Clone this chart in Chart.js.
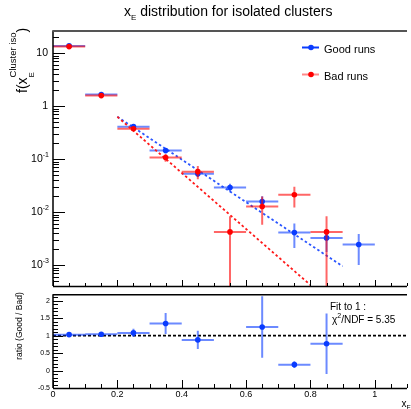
<!DOCTYPE html>
<html>
<head>
<meta charset="utf-8">
<script src="https://cdn.jsdelivr.net/npm/chart.js@4.4.1/dist/chart.umd.min.js"></script>
<style>
html, body { margin: 0; padding: 0; background: #fff; }
#wrap { position: relative; width: 411px; height: 409px; overflow: hidden; }
canvas { position: absolute; left: 0; }
#top-chart { top: 0; }
#ratio-chart { top: 287px; }
</style>
</head>
<body>
<div id="wrap">
<canvas id="top-chart" width="411" height="290"></canvas>
<canvas id="ratio-chart" width="411" height="122"></canvas>
</div>
<script>
var binCenters = [0.05, 0.15, 0.25, 0.35, 0.45, 0.55, 0.65, 0.75, 0.85, 0.95];
var binHalfWidth = 0.05;
var goodValues = [13.7, 1.66, 0.41, 0.145, 0.0527, 0.0292, 0.0159, 0.0041, 0.00326, 0.00244];
var goodErrors = [0.4, 0.05, 0.02, 0.012, 0.006, 0.005, 0.004, 0.002, 0.0015, 0.00144];
var badValues = [13.3, 1.58, 0.374, 0.107, 0.058, 0.00423, 0.0128, 0.0212, 0.00423, null];
var badErrors = [0.6, 0.08, 0.03, 0.018, 0.0165, 0.0041, 0.007, 0.009, 0.0041, null];
var goodFitX = [0.2, 0.9];
var goodFitY = [0.63, 0.00095];
var badFitX = [0.2, 0.8];
var badFitY = [0.63, 0.00042];
var ratioValues = [1.03, 1.04, 1.08, 1.35, 0.88, null, 1.25, 0.17, 0.77, null];
var ratioErrors = [0.04, 0.05, 0.12, 0.3, 0.26, null, 0.88, 0.1, 0.87, null];
var ratioFitX = [0, 1.1];
var ratioFitY = [1, 1];
var xTickValues = [0, 0.2, 0.4, 0.6, 0.8, 1];
var logTickValues = [1e-3, 1e-2, 1e-1, 1, 10];
var ratioTickValues = [-0.5, 0, 0.5, 1, 1.5, 2];
var chi2Text = "5.35";

var FONT = "'Liberation Sans', Arial, sans-serif";
var BLUE = "#0a3cff";
var BLUE_BAR = "rgba(10,60,255,0.6)";
var RED = "#ff0000";
var RED_BAR = "rgba(255,0,0,0.6)";

function toPoints(xs, ys, errs) {
	var pts = [];
	for (var i = 0; i < xs.length; i++) {
		if (ys[i] === null) continue;
		pts.push({x: xs[i], y: ys[i], err: errs ? errs[i] : 0});
	}
	return pts;
}

function font(size) {
	return size + "px " + FONT;
}

// error bars drawn just before each dataset's markers
var errorBarPlugin = {
	id: "errorBars",
	beforeDatasetDraw: function(chart, args) {
		var ds = chart.data.datasets[args.index];
		if (!ds.barColor) return;
		var xs = chart.scales.x, ys = chart.scales.y, a = chart.chartArea, ctx = chart.ctx;
		ctx.save();
		ctx.beginPath();
		ctx.rect(a.left, a.top, a.right - a.left, a.bottom - a.top);
		ctx.clip();
		ctx.strokeStyle = ds.barColor;
		ctx.lineWidth = 2;
		ds.data.forEach(function(p) {
			var px = xs.getPixelForValue(p.x);
			var py = ys.getPixelForValue(p.y);
			var lo = p.y - p.err;
			var pyLo = (ys.type === "logarithmic" && lo <= 0) ? a.bottom + 2 : ys.getPixelForValue(lo);
			ctx.beginPath();
			ctx.moveTo(xs.getPixelForValue(p.x - binHalfWidth), py);
			ctx.lineTo(xs.getPixelForValue(p.x + binHalfWidth), py);
			ctx.moveTo(px, ys.getPixelForValue(p.y + p.err));
			ctx.lineTo(px, pyLo);
			ctx.stroke();
		});
		ctx.restore();
	}
};

function drawXTicks(ctx, xs, a, majorLen, minorLen) {
	for (var k = 0; k * 0.05 <= 1.1 + 1e-9; k++) {
		var px = Math.round(xs.getPixelForValue(k * 0.05)) + 0.5;
		var len = (k % 4 === 0) ? majorLen : minorLen;
		ctx.moveTo(px, a.bottom);
		ctx.lineTo(px, a.bottom - len);
	}
}

var topDecor = {
	id: "topDecor",
	afterDraw: function(chart) {
		var ctx = chart.ctx, a = chart.chartArea, xs = chart.scales.x, ys = chart.scales.y;
		ctx.save();
		ctx.strokeStyle = "#000";
		ctx.lineWidth = 1;
		ctx.beginPath();
		// y ticks (decades + minors)
		for (var e = -4; e <= 1; e++) {
			for (var m = 1; m <= 9; m++) {
				var v = m * Math.pow(10, e);
				if (v < ys.min || v > ys.max) continue;
				var py = Math.round(ys.getPixelForValue(v)) + 0.5;
				ctx.moveTo(a.left, py);
				ctx.lineTo(a.left + (m === 1 ? 12 : 6), py);
			}
		}
		drawXTicks(ctx, xs, a, 6, 3);
		ctx.stroke();
		ctx.lineWidth = 1.5;
		ctx.beginPath();
		ctx.moveTo(a.left, a.top);
		ctx.lineTo(a.left, a.bottom);
		ctx.moveTo(a.left, a.bottom + 0.5);
		ctx.lineTo(a.right, a.bottom + 0.5);
		ctx.stroke();
		ctx.strokeStyle = "#555";
		ctx.lineWidth = 2;
		ctx.beginPath();
		ctx.moveTo(a.left - 0.75, a.top);
		ctx.lineTo(a.right, a.top);
		ctx.stroke();

		// decade labels
		ctx.fillStyle = "#000";
		ctx.textBaseline = "middle";
		ctx.textAlign = "right";
		logTickValues.forEach(function(v) {
			var py = ys.getPixelForValue(v);
			var ex = Math.round(Math.log10(v));
			var right = 49;
			if (ex === 0 || ex === 1) {
				ctx.font = font(10.5);
				ctx.fillText(ex === 0 ? "1" : "10", right - 1, py);
			} else {
				ctx.font = font(7);
				var expText = String(ex);
				ctx.fillText(expText, right, py - 4);
				var w = ctx.measureText(expText).width;
				ctx.font = font(10.5);
				ctx.fillText("10", right - w, py);
			}
		});

		// title
		ctx.textAlign = "left";
		ctx.textBaseline = "alphabetic";
		ctx.font = font(14);
		var tx = 124;
		ctx.fillText("x", tx, 16);
		tx += ctx.measureText("x").width;
		ctx.font = font(8);
		ctx.fillText("E", tx, 20);
		tx += ctx.measureText("E").width;
		ctx.font = font(14);
		ctx.fillText(" distribution for isolated clusters", tx, 16);

		// y axis label
		ctx.save();
		ctx.translate(27, 93);
		ctx.rotate(-Math.PI / 2);
		ctx.font = font(14);
		ctx.fillText("f(", 0, 0);
		var lx = ctx.measureText("f(").width;
		ctx.fillText("x", lx, 0);
		lx += ctx.measureText("x").width;
		ctx.font = font(8);
		ctx.fillText("E", lx, 7);
		ctx.font = font(9.5);
		ctx.fillText("Cluster iso", lx, -11);
		lx += ctx.measureText("Cluster iso").width;
		ctx.font = font(14);
		ctx.fillText(")", lx, 0);
		ctx.restore();

		// legend
		var entries = [
			{label: "Good runs", color: BLUE, line: BLUE, y: 47.5},
			{label: "Bad runs", color: RED, line: "rgba(255,60,60,0.6)", y: 74.5}
		];
		entries.forEach(function(en) {
			ctx.strokeStyle = en.line;
			ctx.lineWidth = 2;
			ctx.beginPath();
			ctx.moveTo(302, en.y);
			ctx.lineTo(319, en.y);
			ctx.stroke();
			ctx.fillStyle = en.color;
			ctx.beginPath();
			ctx.arc(311, en.y, 2.8, 0, Math.PI * 2);
			ctx.fill();
			ctx.fillStyle = "#000";
			ctx.font = font(11);
			ctx.textBaseline = "middle";
			ctx.fillText(en.label, 324, en.y + 2);
		});
		ctx.restore();
	}
};

var ratioDecor = {
	id: "ratioDecor",
	afterDraw: function(chart) {
		var ctx = chart.ctx, a = chart.chartArea, xs = chart.scales.x, ys = chart.scales.y;
		ctx.save();
		ctx.strokeStyle = "#000";
		ctx.lineWidth = 1;
		ctx.beginPath();
		for (var k = -5; k <= 21; k++) {
			var v = k / 10;
			if (v < ys.min || v > ys.max) continue;
			var py = Math.round(ys.getPixelForValue(v)) + 0.5;
			ctx.moveTo(a.left, py);
			ctx.lineTo(a.left + (k % 5 === 0 ? 10 : 5), py);
		}
		drawXTicks(ctx, xs, a, 8, 4);
		ctx.stroke();
		ctx.lineWidth = 1.5;
		ctx.beginPath();
		ctx.moveTo(a.left, a.top);
		ctx.lineTo(a.left, a.bottom);
		ctx.moveTo(a.left, a.top + 0.5);
		ctx.lineTo(a.right, a.top + 0.5);
		ctx.moveTo(a.left, a.bottom + 0.5);
		ctx.lineTo(a.right, a.bottom + 0.5);
		ctx.stroke();

		ctx.fillStyle = "#000";
		// y label
		ctx.save();
		ctx.translate(22, 326 - 287);
		ctx.rotate(-Math.PI / 2);
		ctx.textAlign = "center";
		ctx.font = font(8.5);
		ctx.fillText("ratio (Good / Bad)", 0, 0);
		ctx.restore();

		// fit text
		ctx.textAlign = "left";
		ctx.font = font(10);
		ctx.fillText("Fit to 1 :", 330, 310 - 287);
		var fx = 332;
		ctx.fillText("\u03c7", fx, 323 - 287);
		fx += ctx.measureText("\u03c7").width;
		ctx.font = font(7);
		ctx.fillText("2", fx, 318 - 287);
		fx += ctx.measureText("2").width;
		ctx.font = font(10);
		ctx.fillText("/NDF = " + chi2Text, fx, 323 - 287);

		// x label
		ctx.font = font(10);
		ctx.fillText("x", 401.5, 406.5 - 287);
		ctx.font = font(6.5);
		ctx.fillText("E", 406.5, 410 - 287);
		ctx.restore();
	}
};

var hiddenGrid = {display: false, drawTicks: false, tickLength: 0};
var noBorder = {display: false};

var topChart = new Chart(document.getElementById("top-chart"), {
	type: "scatter",
	data: {
		datasets: [
			{
				label: "Bad runs",
				data: toPoints(binCenters, badValues, badErrors),
				backgroundColor: RED,
				borderColor: RED,
				pointRadius: 2.8,
				pointBorderWidth: 0,
				barColor: RED_BAR
			},
			{
				label: "Bad fit",
				data: toPoints(badFitX, badFitY),
				showLine: true,
				borderColor: "#ff1a1a",
				borderWidth: 1.8,
				borderDash: [2.5, 2.5],
				pointRadius: 0
			},
			{
				label: "Good runs",
				data: toPoints(binCenters, goodValues, goodErrors),
				backgroundColor: BLUE,
				borderColor: BLUE,
				pointRadius: 2.8,
				pointBorderWidth: 0,
				barColor: BLUE_BAR
			},
			{
				label: "Good fit",
				data: toPoints(goodFitX, goodFitY),
				showLine: true,
				borderColor: "#2a55ff",
				borderWidth: 1.8,
				borderDash: [2.5, 2.5],
				pointRadius: 0
			}
		]
	},
	options: {
		responsive: false,
		animation: false,
		devicePixelRatio: 1,
		layout: {padding: {top: 31, left: 0, right: 0, bottom: 3}},
		plugins: {legend: {display: false}, tooltip: {enabled: false}},
		scales: {
			x: {type: "linear", min: 0, max: 1.1, display: false},
			y: {
				type: "logarithmic",
				min: 4.03e-4,
				max: 26.2,
				grid: hiddenGrid,
				border: noBorder,
				ticks: {display: false},
				afterFit: function(s) { s.width = 53; }
			}
		}
	},
	plugins: [errorBarPlugin, topDecor]
});

var ratioChart = new Chart(document.getElementById("ratio-chart"), {
	type: "scatter",
	data: {
		datasets: [
			{
				label: "Good / Bad",
				data: toPoints(binCenters, ratioValues, ratioErrors),
				backgroundColor: BLUE,
				borderColor: BLUE,
				pointRadius: 2.8,
				pointBorderWidth: 0,
				barColor: BLUE_BAR
			},
			{
				label: "Fit to 1",
				data: toPoints(ratioFitX, ratioFitY),
				showLine: true,
				borderColor: "#000",
				borderWidth: 1.8,
				borderDash: [3, 2],
				pointRadius: 0
			}
		]
	},
	options: {
		responsive: false,
		animation: false,
		devicePixelRatio: 1,
		layout: {padding: {top: 3, left: 0, right: 0, bottom: 0}},
		plugins: {legend: {display: false}, tooltip: {enabled: false}},
		scales: {
			x: {
				type: "linear",
				min: 0,
				max: 1.1,
				grid: hiddenGrid,
				border: noBorder,
				afterBuildTicks: function(s) {
					s.ticks = xTickValues.map(function(v) { return {value: v}; });
				},
				ticks: {
					autoSkip: false,
					maxRotation: 0,
					padding: 1,
					color: "#000",
					font: {family: FONT, size: 9},
					callback: function(v) { return String(v); }
				},
				afterFit: function(s) { s.height = 21; }
			},
			y: {
				type: "linear",
				min: -0.5,
				max: 2.19,
				grid: hiddenGrid,
				border: noBorder,
				afterBuildTicks: function(s) {
					s.ticks = ratioTickValues.map(function(v) { return {value: v}; });
				},
				ticks: {
					autoSkip: false,
					padding: 3,
					color: "#000",
					font: {family: FONT, size: 7},
					callback: function(v) { return String(v); }
				},
				afterFit: function(s) { s.width = 53; }
			}
		}
	},
	plugins: [errorBarPlugin, ratioDecor]
});
</script>
</body>
</html>
